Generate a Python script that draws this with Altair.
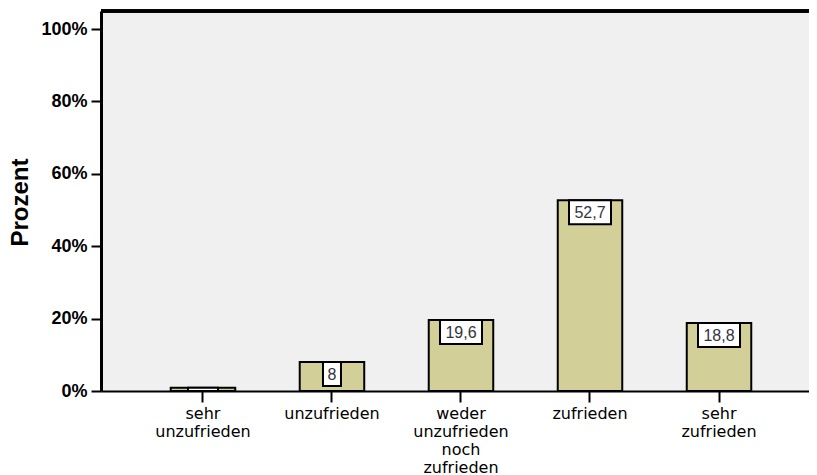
import altair as alt
import pandas as pd

categories = ["sehr unzufrieden", "unzufrieden", "weder unzufrieden noch zufrieden", "zufrieden", "sehr zufrieden"]
values = [0.9, 8.0, 19.6, 52.7, 18.8]
labels = ["0,9", "8", "19,6", "52,7", "18,8"]

df = pd.DataFrame({"cat": categories, "value": values, "label": labels})

W, H = 708, 380
ymax = 105

xenc = alt.X("cat:N", sort=categories,
             scale=alt.Scale(paddingInner=0.5, paddingOuter=0.494, align=0.547),
             axis=alt.Axis(title=None, labelAngle=0, labelExpr="split(datum.label, ' ')",
                           labelFont="DejaVu Sans", labelFontSize=16, labelColor="black",
                           labelLineHeight=18, labelPadding=3,
                           tickSize=11, tickWidth=2, tickColor="black",
                           domainWidth=2, domainColor="black"))
yenc = alt.Y("value:Q", scale=alt.Scale(domain=[0, ymax], nice=False),
             axis=alt.Axis(title="Prozent", values=[0, 20, 40, 60, 80, 100],
                           labelExpr="datum.value + '%'", grid=False,
                           labelFont="Liberation Sans", labelFontSize=18, labelFontWeight="bold",
                           labelColor="black", labelPadding=4,
                           tickSize=10, tickWidth=2, tickColor="black",
                           domainWidth=3, domainColor="black",
                           titleFont="Liberation Sans", titleFontSize=24, titleFontWeight="bold",
                           titleColor="black", titleX=-81, titleY=191, titleBaseline="middle",
                           titleAlign="center"))

base = alt.Chart(df)

bars = base.mark_bar(fill="#d3cf99", stroke="black", strokeWidth=2).encode(x=xenc, y=yenc)

boxdata = base.transform_calculate(bottom="max(datum.value - 6.63, 0)", n="length(datum.label)")

def box(n, w):
    return boxdata.transform_filter(f"datum.n == {n}").mark_bar(
        size=w, fill="white", stroke="black", strokeWidth=2
    ).encode(x=alt.X("cat:N", sort=categories), y="value:Q", y2="bottom:Q")

texts = base.transform_filter("datum.value > 2").mark_text(
    font="Liberation Sans", fontSize=16, color="#333340", baseline="middle", dy=13
).encode(x=alt.X("cat:N", sort=categories), y="value:Q", text="label:N")

topline = base.mark_rule(color="black", strokeWidth=3).encode(
    x=alt.value(0), x2=alt.value(W), y=alt.value(0))

chart = alt.layer(bars, box(4, 42), box(3, 30), box(1, 18), texts, topline).properties(
    width=W, height=H,
    autosize=alt.AutoSizeParams(type="none"),
    padding={"left": 93, "top": 3, "right": 0, "bottom": 84},
).configure_view(fill="#f0f0f0", stroke="transparent")

chart.save("out.html", embed_options={"renderer": "svg", "actions": False})
